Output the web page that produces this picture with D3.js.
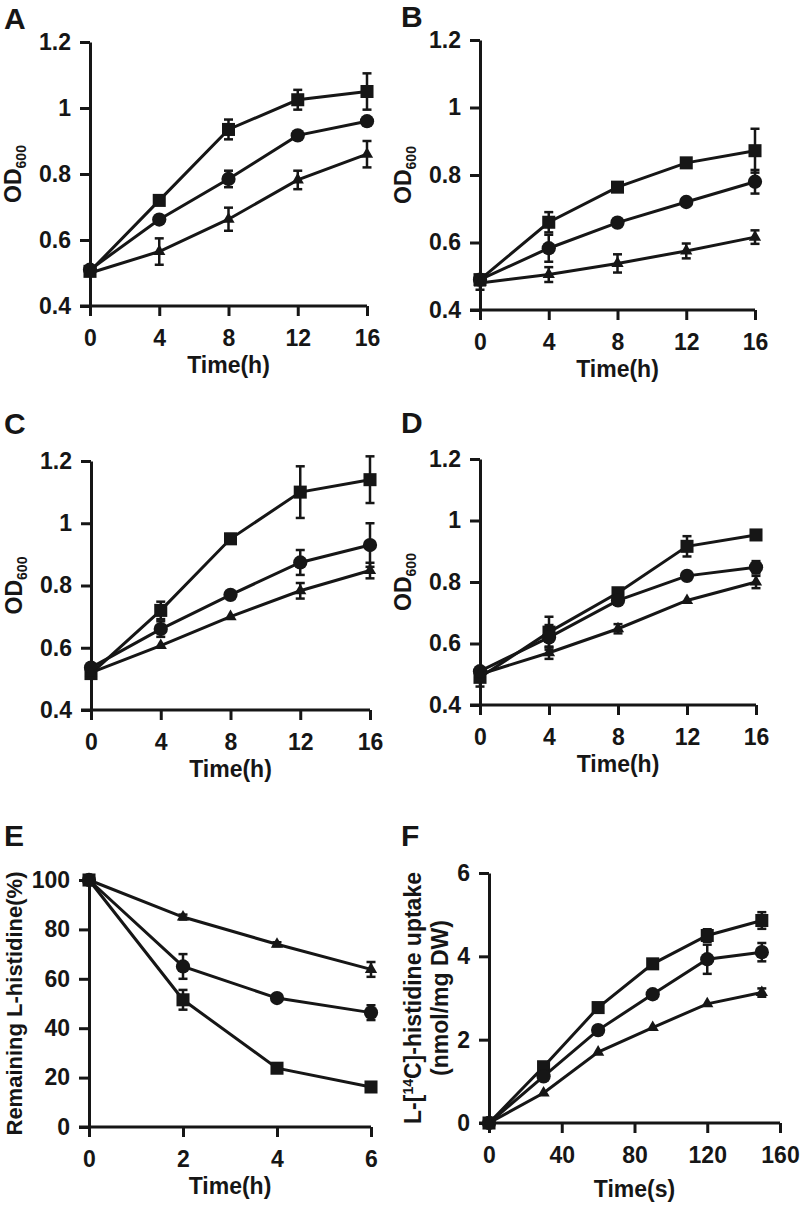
<!DOCTYPE html>
<html>
<head>
<meta charset="utf-8">
<script src="https://cdn.jsdelivr.net/npm/d3@7"></script>
<style>
  body { margin: 0; background: #fff; }
  svg { display: block; font-family: "Liberation Sans", Arial, sans-serif; font-weight: bold; }
</style>
</head>
<body>
<svg id="fig" width="800" height="1206"></svg>
<script>
// Data.
var timeH = [0, 4, 8, 12, 16];
var timeE = [0, 2, 4, 6];
var timeS = [0, 30, 60, 90, 120, 150];

var odTicks = [0.4, 0.6, 0.8, 1, 1.2];
var hourTicks = [0, 4, 8, 12, 16];
var eTicksY = [0, 20, 40, 60, 80, 100];
var eTicksX = [0, 2, 4, 6];
var fTicksY = [0, 2, 4, 6];
var fTicksX = [0, 40, 80, 120, 160];

// Panel A
var aSquare = [0.505, 0.72, 0.935, 1.025, 1.05];
var aSquareErr = [0, 0, 0.03, 0.03, 0.055];
var aCircle = [0.51, 0.662, 0.785, 0.917, 0.96];
var aCircleErr = [0, 0, 0.025, 0.01, 0.01];
var aTriangle = [0.50, 0.565, 0.663, 0.782, 0.86];
var aTriangleErr = [0, 0.04, 0.035, 0.028, 0.04];

// Panel B
var bSquare = [0.49, 0.66, 0.764, 0.836, 0.872];
var bSquareErr = [0, 0.03, 0, 0, 0.065];
var bCircle = [0.49, 0.583, 0.659, 0.72, 0.78];
var bCircleErr = [0, 0.04, 0, 0, 0.035];
var bTriangle = [0.48, 0.505, 0.538, 0.575, 0.616];
var bTriangleErr = [0.02, 0.022, 0.027, 0.022, 0.02];

// Panel C
var cSquare = [0.517, 0.72, 0.95, 1.10, 1.14];
var cSquareErr = [0, 0.028, 0.015, 0.083, 0.075];
var cCircle = [0.536, 0.66, 0.77, 0.874, 0.93];
var cCircleErr = [0, 0.025, 0, 0.04, 0.07];
var cTriangle = [0.52, 0.607, 0.70, 0.783, 0.848];
var cTriangleErr = [0, 0, 0, 0.025, 0.025];

// Panel D
var dSquare = [0.49, 0.637, 0.765, 0.916, 0.953];
var dSquareErr = [0.03, 0.05, 0, 0.033, 0];
var dCircle = [0.51, 0.62, 0.74, 0.82, 0.848];
var dCircleErr = [0, 0.04, 0.01, 0, 0.02];
var dTriangle = [0.50, 0.57, 0.648, 0.74, 0.80];
var dTriangleErr = [0, 0.02, 0.015, 0, 0.02];

// Panel E
var eSquare = [100, 51.5, 23.8, 16.2];
var eSquareErr = [0, 4, 1, 1];
var eCircle = [100, 65, 52.2, 46.3];
var eCircleErr = [0, 5, 1, 3];
var eTriangle = [100, 85, 74, 63.8];
var eTriangleErr = [0, 1, 0.8, 3];

// Panel F
var fSquare = [0, 1.35, 2.77, 3.82, 4.5, 4.86];
var fSquareErr = [0, 0.08, 0, 0, 0.15, 0.2];
var fCircle = [0, 1.12, 2.23, 3.09, 3.93, 4.1];
var fCircleErr = [0, 0, 0, 0, 0.35, 0.22];
var fTriangle = [0, 0.72, 1.70, 2.29, 2.86, 3.13];
var fTriangleErr = [0, 0, 0, 0, 0, 0.1];

var INK = '#161616';
var FONT = 23;
var svg = d3.select('#fig');

var panels = [
  {letter: 'A', lx: 4, ly: 29, x0: 90, x1: 367, yTop: 42, yBot: 306, xDomain: [0, 16], yDomain: [0.4, 1.2],
   xt: hourTicks, yt: odTicks, t: timeH, xLabel: 'Time(h)', yLabel: 'od',
   series: [[aSquare, aSquareErr, 'square'], [aCircle, aCircleErr, 'circle'], [aTriangle, aTriangleErr, 'triangle']]},
  {letter: 'B', lx: 401, ly: 27, x0: 480, x1: 755, yTop: 40, yBot: 310, xDomain: [0, 16], yDomain: [0.4, 1.2],
   xt: hourTicks, yt: odTicks, t: timeH, xLabel: 'Time(h)', yLabel: 'od',
   series: [[bSquare, bSquareErr, 'square'], [bCircle, bCircleErr, 'circle'], [bTriangle, bTriangleErr, 'triangle']]},
  {letter: 'C', lx: 4, ly: 434, x0: 91, x1: 370, yTop: 461, yBot: 710, xDomain: [0, 16], yDomain: [0.4, 1.2],
   xt: hourTicks, yt: odTicks, t: timeH, xLabel: 'Time(h)', yLabel: 'od',
   series: [[cSquare, cSquareErr, 'square'], [cCircle, cCircleErr, 'circle'], [cTriangle, cTriangleErr, 'triangle']]},
  {letter: 'D', lx: 401, ly: 433, x0: 480, x1: 756, yTop: 459, yBot: 705, xDomain: [0, 16], yDomain: [0.4, 1.2],
   xt: hourTicks, yt: odTicks, t: timeH, xLabel: 'Time(h)', yLabel: 'od',
   series: [[dSquare, dSquareErr, 'square'], [dCircle, dCircleErr, 'circle'], [dTriangle, dTriangleErr, 'triangle']]},
  {letter: 'E', lx: 4, ly: 846, x0: 89, x1: 371, yTop: 880, yBot: 1127, xDomain: [0, 6], yDomain: [0, 100],
   xt: eTicksX, yt: eTicksY, t: timeE, xLabel: 'Time(h)', yLabel: 'remaining',
   series: [[eSquare, eSquareErr, 'square'], [eCircle, eCircleErr, 'circle'], [eTriangle, eTriangleErr, 'triangle']]},
  {letter: 'F', lx: 401, ly: 846, x0: 489, x1: 780, yTop: 873, yBot: 1123, xDomain: [0, 160], yDomain: [0, 6],
   xt: fTicksX, yt: fTicksY, t: timeS, xLabel: 'Time(s)', yLabel: 'uptake', titleGap: 74,
   series: [[fSquare, fSquareErr, 'square'], [fCircle, fCircleErr, 'circle'], [fTriangle, fTriangleErr, 'triangle']]}
];

var symbolFor = {
  square: d3.symbol().type(d3.symbolSquare).size(170),
  circle: d3.symbol().type(d3.symbolCircle).size(160),
  triangle: d3.symbol().type(d3.symbolTriangle).size(65)
};

var drawPanel = function(p) {
  var x = d3.scaleLinear().domain(p.xDomain).range([p.x0, p.x1]);
  var y = d3.scaleLinear().domain(p.yDomain).range([p.yBot, p.yTop]);
  var g = svg.append('g');

  // Panel letter
  g.append('text').text(p.letter)
    .attr('x', p.lx).attr('y', p.ly)
    .attr('font-size', 30).attr('fill', INK);

  // Axes
  var xAxis = g.append('g').attr('transform', 'translate(0,' + p.yBot + ')')
    .call(d3.axisBottom(x).tickValues(p.xt).tickSize(10).tickPadding(14).tickSizeOuter(0)
      .tickFormat(d3.format('~g')));
  var yAxis = g.append('g').attr('transform', 'translate(' + p.x0 + ',0)')
    .call(d3.axisLeft(y).tickValues(p.yt).tickSize(10).tickPadding(9).tickSizeOuter(0)
      .tickFormat(d3.format('~g')));
  [xAxis, yAxis].forEach(function(a) {
    a.attr('font-family', null).attr('font-size', FONT);
    a.selectAll('path, line').attr('stroke', INK).attr('stroke-width', 3);
    a.selectAll('text').attr('fill', INK);
  });
  // extend x axis line to meet the y tick at the bottom
  xAxis.select('path').attr('d', 'M' + (p.x0 - 10) + ',0H' + p.x1);

  // x title
  g.append('text').text(p.xLabel)
    .attr('x', (p.x0 + p.x1) / 2).attr('y', p.yBot + (p.titleGap || 67))
    .attr('text-anchor', 'middle').attr('font-size', FONT).attr('fill', INK);

  // y title
  var cy = (p.yTop + p.yBot) / 2;
  if (p.yLabel === 'od') {
    var t = g.append('text')
      .attr('transform', 'translate(' + (p.x0 - 69) + ',' + cy + ') rotate(-90)')
      .attr('text-anchor', 'middle').attr('font-size', FONT).attr('fill', INK);
    t.append('tspan').text('OD');
    t.append('tspan').text('600').attr('font-size', 14).attr('dy', 5);
  } else if (p.yLabel === 'remaining') {
    g.append('text').text('Remaining L-histidine(%)')
      .attr('transform', 'translate(' + (p.x0 - 67) + ',' + cy + ') rotate(-90)')
      .attr('text-anchor', 'middle').attr('font-size', 22).attr('fill', INK);
  } else {
    var t1 = g.append('text')
      .attr('transform', 'translate(' + (p.x0 - 68) + ',' + cy + ') rotate(-90)')
      .attr('text-anchor', 'middle').attr('font-size', FONT).attr('fill', INK);
    t1.append('tspan').text('L-[');
    t1.append('tspan').text('14').attr('font-size', 14).attr('dy', -8);
    t1.append('tspan').text('C]-histidine uptake').attr('dy', 8);
    g.append('text').text('(nmol/mg DW)')
      .attr('transform', 'translate(' + (p.x0 - 41) + ',' + cy + ') rotate(-90)')
      .attr('text-anchor', 'middle').attr('font-size', FONT).attr('fill', INK);
  }

  // Series
  var line = d3.line().x(function(d) { return x(d.t); }).y(function(d) { return y(d.v); });
  p.series.forEach(function(s) {
    var pts = s[0].map(function(v, i) { return {t: p.t[i], v: v, e: s[1][i]}; });
    var sg = g.append('g');
    sg.append('path').datum(pts).attr('d', line)
      .attr('fill', 'none').attr('stroke', INK).attr('stroke-width', 3);

    var eb = sg.selectAll('g.err').data(pts.filter(function(d) { return d.e > 0; }))
      .enter().append('g').attr('stroke', INK).attr('stroke-width', 2.5);
    eb.append('line')
      .attr('x1', function(d) { return x(d.t); }).attr('x2', function(d) { return x(d.t); })
      .attr('y1', function(d) { return y(d.v - d.e); }).attr('y2', function(d) { return y(d.v + d.e); });
    [-1, 1].forEach(function(sign) {
      eb.append('line')
        .attr('x1', function(d) { return x(d.t) - 4.5; }).attr('x2', function(d) { return x(d.t) + 4.5; })
        .attr('y1', function(d) { return y(d.v + sign * d.e); })
        .attr('y2', function(d) { return y(d.v + sign * d.e); });
    });

    sg.selectAll('path.mark').data(pts).enter().append('path')
      .attr('class', 'mark')
      .attr('d', symbolFor[s[2]])
      .attr('transform', function(d) { return 'translate(' + x(d.t) + ',' + y(d.v) + ')'; })
      .attr('fill', INK);
  });
};

panels.forEach(drawPanel);
</script>
</body>
</html>
